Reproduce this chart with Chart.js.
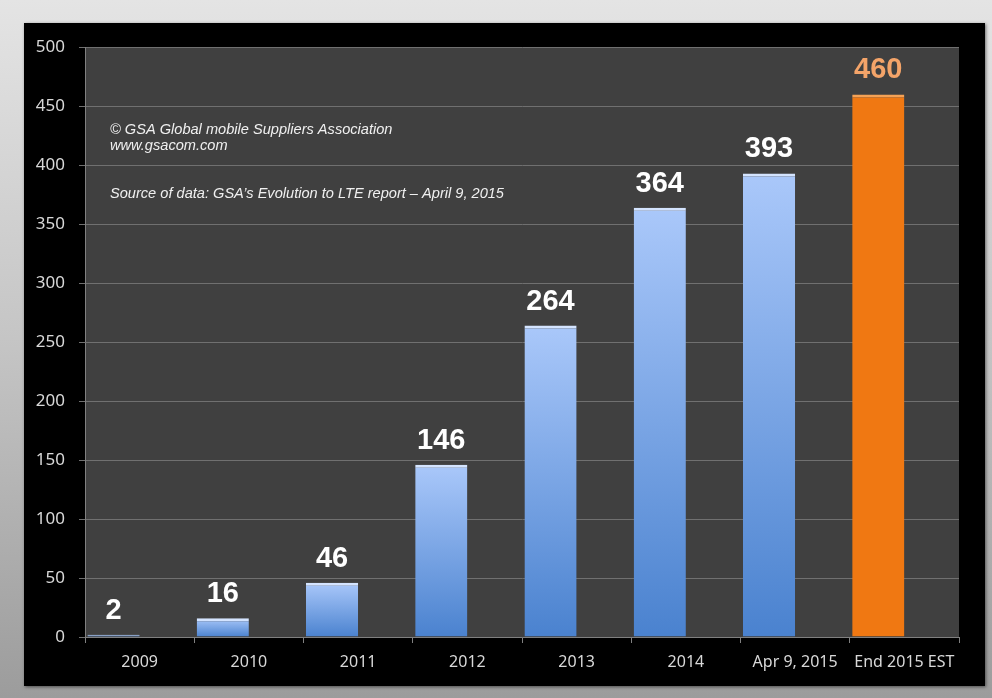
<!DOCTYPE html>
<html>
<head>
<meta charset="utf-8">
<script src="https://cdn.jsdelivr.net/npm/chart.js@4.4.1/dist/chart.umd.min.js"></script>
<style>
  html, body { margin: 0; padding: 0; }
  body {
    width: 992px; height: 698px; overflow: hidden;
    background: linear-gradient(to bottom, #e4e4e4 0%, #c4c4c4 50%, #9c9c9c 100%);
  }
  #frame {
    position: absolute; left: 24px; top: 23px; width: 961px; height: 663px;
    background: #000;
    box-shadow: 1px 1px 3px rgba(0,0,0,0.5);
  }
</style>
</head>
<body>
<div id="frame"><canvas id="chart" width="961" height="663"></canvas></div>
<script>
// values
const categories = ['2009', '2010', '2011', '2012', '2013', '2014', 'Apr 9, 2015', 'End 2015 EST'];
const lteNetworks = [2, 16, 46, 146, 264, 364, 393, 460];
const isEstimate = [false, false, false, false, false, false, false, true];
const emptySeries = [null, null, null, null, null, null, null, null];
const yTicks = [0, 50, 100, 150, 200, 250, 300, 350, 400, 450, 500];
const notes = [
    '© GSA Global mobile Suppliers Association',
    'www.gsacom.com',
    'Source of data: GSA’s Evolution to LTE report – April 9, 2015'
];

// plot background + notes
const plotBg = {
    id: 'plotBg',
    beforeDraw(chart) {
        const { ctx, chartArea: a } = chart;
        ctx.save();
        ctx.fillStyle = '#404040';
        ctx.fillRect(a.left, a.top, a.right - a.left, a.bottom - a.top);
        ctx.restore();
    },
    afterDraw(chart) {
        const { ctx, chartArea: a } = chart;
        ctx.save();
        ctx.fillStyle = '#f0f0f0';
        ctx.font = 'italic 14.6px "Liberation Sans", Arial, sans-serif';
        ctx.textBaseline = 'middle';
        const lineY = [107, 123, 171];
        notes.forEach((line, i) => ctx.fillText(line, a.left + 25, lineY[i]));
        ctx.restore();
    }
};

// value labels over bars
const valueLabels = {
    id: 'valueLabels',
    afterDatasetsDraw(chart) {
        const { ctx } = chart;
        const meta = chart.getDatasetMeta(0);
        ctx.save();
        ctx.font = 'bold 29px "Liberation Sans", Arial, sans-serif';
        ctx.textAlign = 'center';
        ctx.textBaseline = 'alphabetic';
        meta.data.forEach((bar, i) => {
            ctx.fillStyle = isEstimate[i] ? '#f4a469' : '#ffffff';
            ctx.fillText(String(lteNetworks[i]), bar.x, bar.y - 16);
        });
        ctx.restore();
    }
};

function barFill(context) {
    const chart = context.chart;
    const i = context.dataIndex;
    if (isEstimate[i]) return '#f07812';
    const y = chart.scales && chart.scales.y;
    if (!y || !chart.chartArea) return '#6f9ee6';
    const top = y.getPixelForValue(lteNetworks[i]);
    const bottom = y.getPixelForValue(0);
    const g = chart.ctx.createLinearGradient(0, top, 0, bottom);
    g.addColorStop(0, '#aac8fa');
    g.addColorStop(1, '#4a82cf');
    return g;
}

new Chart(document.getElementById('chart'), {
    type: 'bar',
    data: {
        labels: categories,
        datasets: [{
            data: lteNetworks,
            backgroundColor: barFill,
            borderColor: (c) => isEstimate[c.dataIndex] ? '#f6a255' : '#d4e4ff',
            borderWidth: { top: 3, left: 0, right: 0, bottom: 0 },
            borderSkipped: 'start'
        }, {
            // empty second series, leaves the bars sitting left in each category
            data: emptySeries,
            backgroundColor: 'rgba(0,0,0,0)'
        }]
    },
    options: {
        responsive: false,
        animation: false,
        events: [],
        datasets: { bar: { categoryPercentage: 0.955, barPercentage: 1 } },
        layout: { padding: { top: 24, right: 26, left: 0, bottom: 0 } },
        plugins: {
            legend: { display: false },
            tooltip: { enabled: false }
        },
        scales: {
            y: {
                min: 0,
                max: 500,
                afterFit: (s) => { s.width = 61; },
                afterBuildTicks: (s) => { s.ticks = yTicks.map(v => ({ value: v })); },
                border: { color: '#808080', width: 1 },
                grid: { color: '#707070', lineWidth: 1, tickLength: 6 },
                ticks: {
                    color: '#d8d8d8',
                    padding: 14,
                    font: { family: '"Noto Sans", sans-serif', size: 17 }
                }
            },
            x: {
                afterFit: (s) => { s.height = 49; },
                border: { color: '#808080', width: 1 },
                grid: { display: true, drawOnChartArea: false, color: '#808080', tickLength: 6, offset: true },
                ticks: {
                    color: '#d8d8d8',
                    padding: 10,
                    maxRotation: 0,
                    autoSkip: false,
                    font: { family: '"Noto Sans", sans-serif', size: 16 }
                }
            }
        }
    },
    plugins: [plotBg, valueLabels]
});
</script>
</body>
</html>
